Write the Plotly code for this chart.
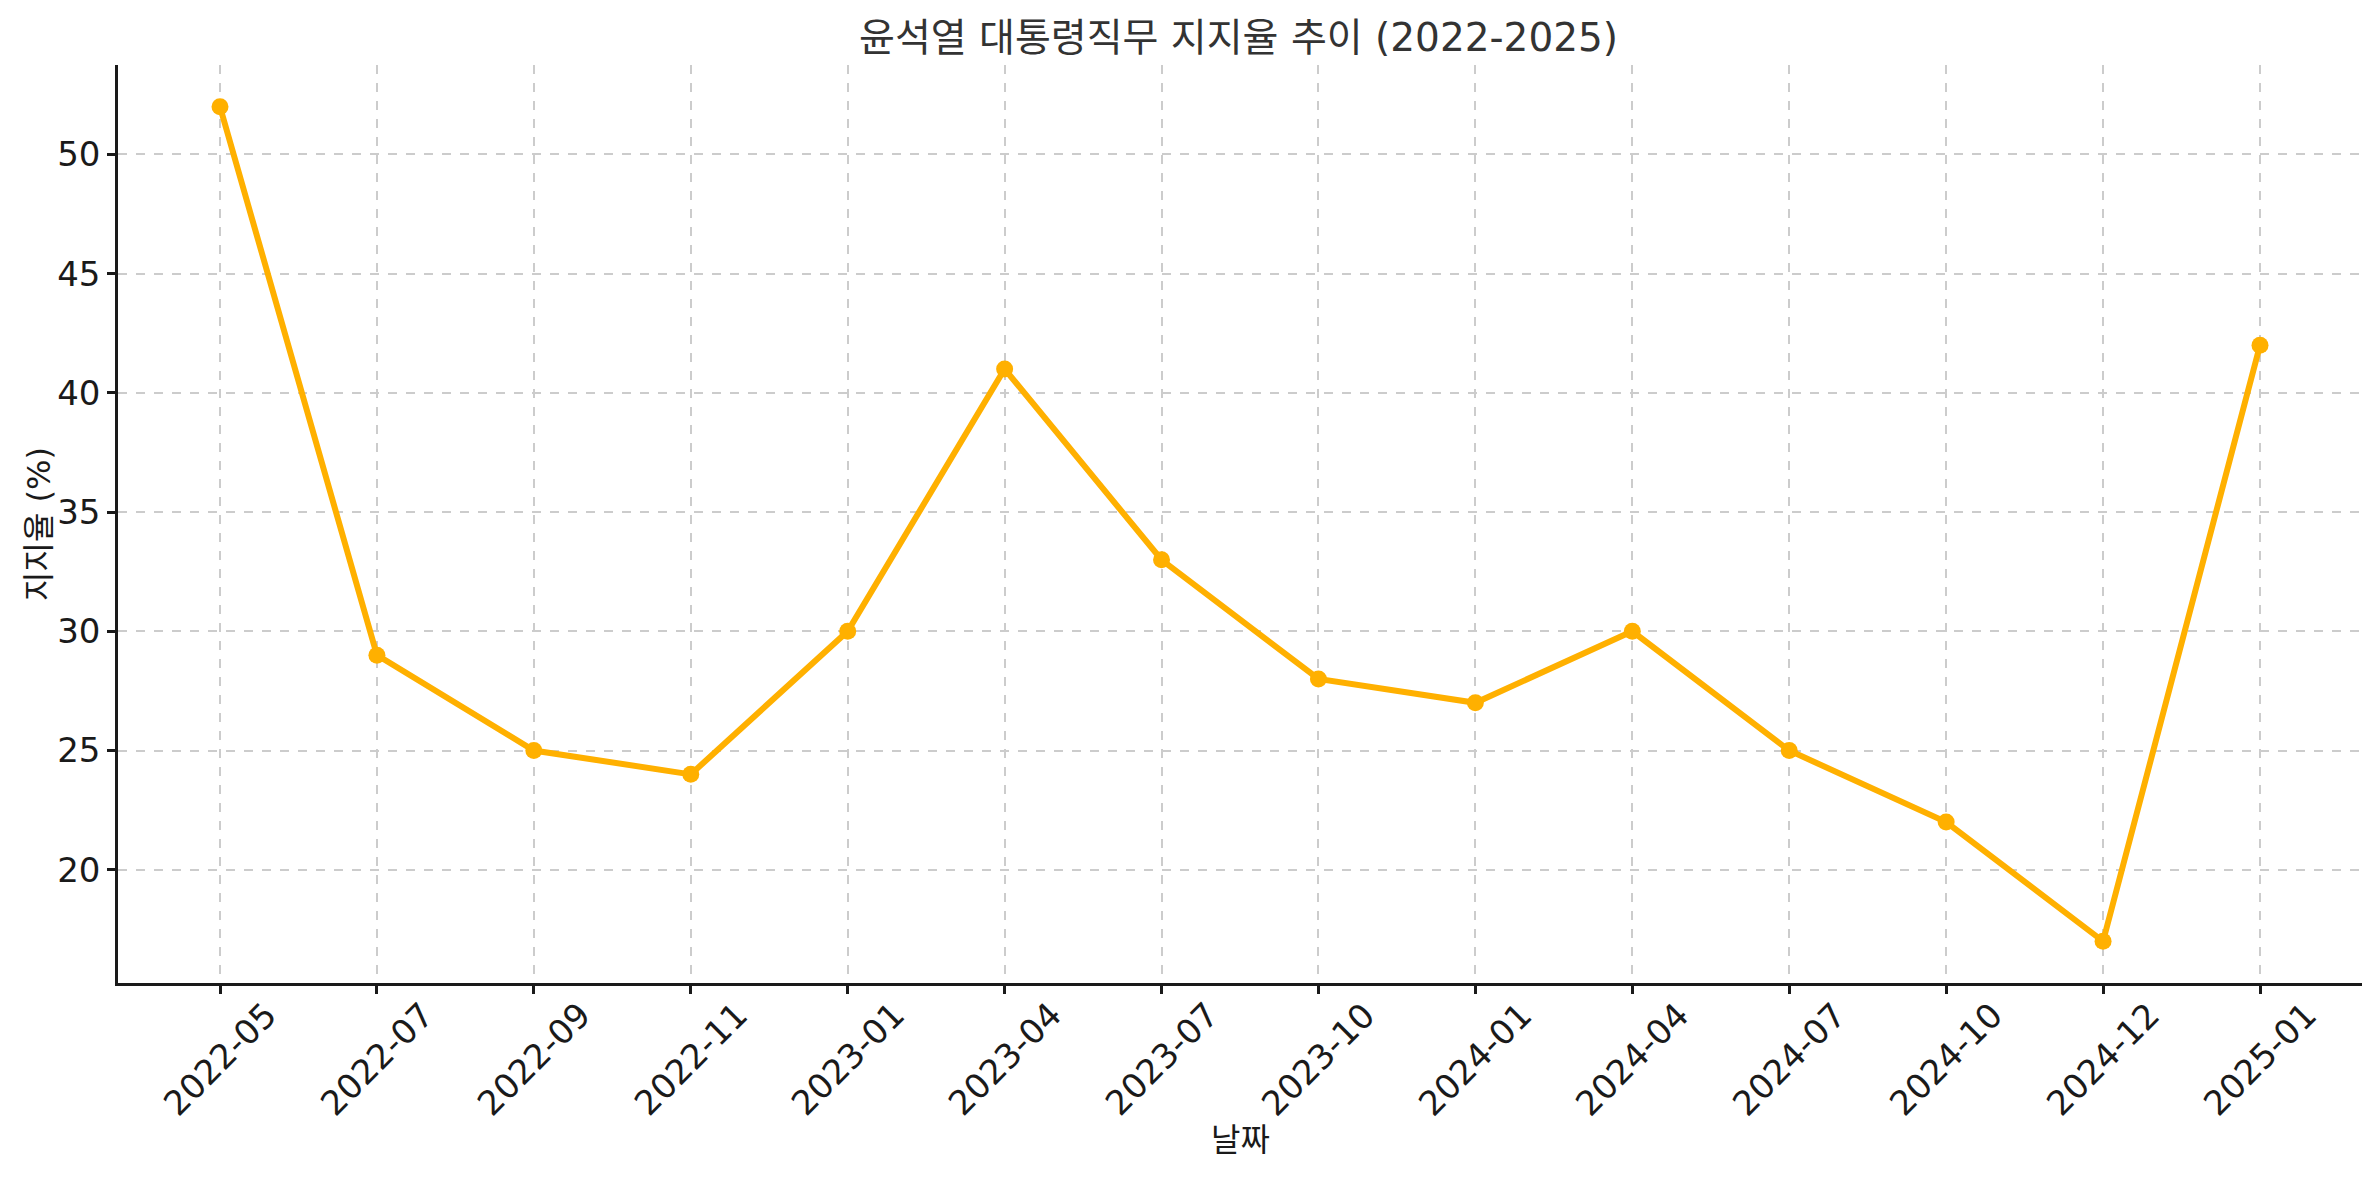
import plotly.graph_objects as go

months = ["2022-05", "2022-07", "2022-09", "2022-11", "2023-01", "2023-04", "2023-07",
          "2023-10", "2024-01", "2024-04", "2024-07", "2024-10", "2024-12", "2025-01"]
approval = [52, 29, 25, 24, 30, 41, 33, 28, 27, 30, 25, 22, 17, 42]
y_ticks = [20, 25, 30, 35, 40, 45, 50]

title_text = "윤석열 대통령직무 지지율 추이 (2022-2025)"
x_title = "날짜"
y_title = "지지율 (%)"

FONT = "DejaVu Sans, Noto Sans CJK KR, sans-serif"
COLOR = "#FFB000"
TICK = 34

fig = go.Figure()
fig.add_trace(go.Scatter(
    x=months, y=approval, mode="lines+markers",
    line=dict(color=COLOR, width=6),
    marker=dict(color=COLOR, size=17),
    showlegend=False, hoverinfo="x+y",
))

annotations = []
for m in months:
    annotations.append(dict(
        x=m, y=0, xref="x", yref="paper", text=m, showarrow=False,
        textangle=-45, xanchor="center", yanchor="top", yshift=-9,
        font=dict(family=FONT, size=TICK, color="#1a1a1a"),
    ))
annotations.append(dict(
    x=0.5, y=0, xref="paper", yref="paper", text=x_title, showarrow=False,
    xanchor="center", yanchor="middle", yshift=-157,
    font=dict(family=FONT, size=32, color="#1a1a1a"),
))
annotations.append(dict(
    x=0, y=0.5, xref="paper", yref="paper", text=y_title, showarrow=False,
    textangle=-90, xanchor="center", yanchor="middle", xshift=-79,
    font=dict(family=FONT, size=32, color="#1a1a1a"),
))

# page body has an 8px margin, so the figure is sized to fit the window
fig.update_layout(
    width=2371, height=1171,
    margin=dict(l=110, r=17, t=57, b=196),
    paper_bgcolor="white", plot_bgcolor="white",
    font=dict(family=FONT, size=32, color="#1a1a1a"),
    title=dict(text=title_text, x=0.519, xanchor="center", y=0.975, yanchor="middle",
               font=dict(family=FONT, size=39, color="#333333")),
    annotations=annotations,
    xaxis=dict(
        type="category", range=[-0.65, len(months) - 1 + 0.65],
        showticklabels=False,
        showgrid=True, gridcolor="#cccccc", griddash="dash", gridwidth=1.5,
        showline=True, linecolor="#1a1a1a", linewidth=2.5,
        ticks="outside", ticklen=8, tickwidth=2.5, tickcolor="#1a1a1a",
        zeroline=False,
    ),
    yaxis=dict(
        range=[15.25, 53.75], tickvals=y_ticks,
        showgrid=True, gridcolor="#cccccc", griddash="dash", gridwidth=1.5,
        showline=True, linecolor="#1a1a1a", linewidth=2.5,
        ticks="outside", ticklen=8, tickwidth=2.5, tickcolor="#1a1a1a",
        tickfont=dict(family=FONT, size=TICK, color="#1a1a1a"),
        zeroline=False, automargin=False,
    ),
)

fig.write_html("out.html")
